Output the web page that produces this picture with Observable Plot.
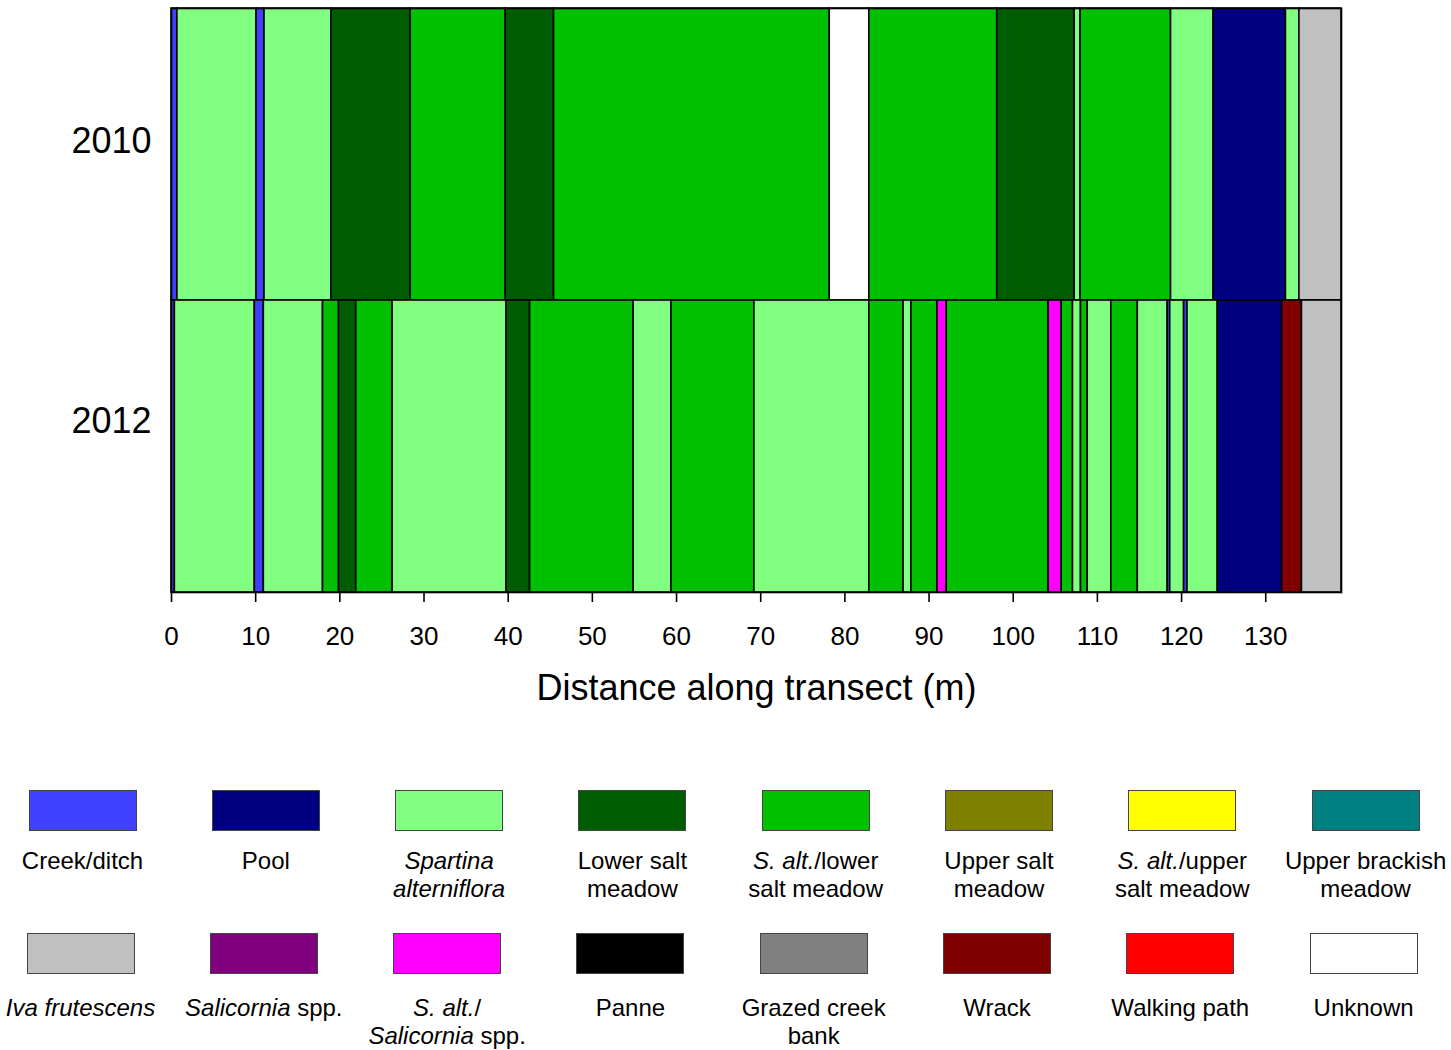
<!DOCTYPE html>
<html>
<head>
<meta charset="utf-8">
<script src="https://cdn.jsdelivr.net/npm/d3@7"></script>
<script src="https://cdn.jsdelivr.net/npm/@observablehq/plot@0.6"></script>
<style>
  body { margin: 0; background: #fff; font-family: "Liberation Sans", Arial, sans-serif; }
  #wrap { position: relative; width: 1451px; height: 1050px; }
  #chart { position: absolute; left: 0; top: 0; }
  .sw { position: absolute; width: 108px; height: 41px; box-sizing: border-box; border: 1px solid #444; }
  .lab { position: absolute; transform: translateX(-50%); font-size: 24px; line-height: 28px; text-align: center; white-space: nowrap; color: #000; }
</style>
</head>
<body>
<div id="wrap"><div id="chart"></div></div>
<script>
// Habitat categories (legend order) and colours
const categories = [
  "Creek/ditch", "Pool", "Spartina alterniflora", "Lower salt meadow",
  "S. alt./lower salt meadow", "Upper salt meadow", "S. alt./upper salt meadow", "Upper brackish meadow",
  "Iva frutescens", "Salicornia spp.", "S. alt./Salicornia spp.", "Panne",
  "Grazed creek bank", "Wrack", "Walking path", "Unknown"
];
const colors = [
  "#4040FF", "#000080", "#80FF80", "#005C00",
  "#00C000", "#808000", "#FFFF00", "#008080",
  "#C0C0C0", "#800080", "#FF00FF", "#000000",
  "#808080", "#800000", "#FF0000", "#FFFFFF"
];
// Legend labels (HTML, italics for taxa)
const legendLabels = [
  "Creek/ditch", "Pool", "<i>Spartina</i><br><i>alterniflora</i>", "Lower salt<br>meadow",
  "<i>S. alt.</i>/lower<br>salt meadow", "Upper salt<br>meadow", "<i>S. alt.</i>/upper<br>salt meadow", "Upper brackish<br>meadow",
  "<i>Iva frutescens</i>", "<i>Salicornia</i> spp.", "<i>S. alt.</i>/<br><i>Salicornia</i> spp.", "Panne",
  "Grazed creek<br>bank", "Wrack", "Walking path", "Unknown"
];

const years = ["2010", "2012"];

// Segment boundaries (m) and habitat of each segment
const breaks2010 = [0, 0.7, 10.1, 11.05, 19.0, 28.4, 39.7, 45.45, 78.2, 82.9, 98.1, 107.3, 108.0, 118.75, 123.8, 132.4, 134.0, 139];
const classes2010 = [
  "Creek/ditch", "Spartina alterniflora", "Creek/ditch", "Spartina alterniflora", "Lower salt meadow",
  "S. alt./lower salt meadow", "Lower salt meadow", "S. alt./lower salt meadow", "Unknown",
  "S. alt./lower salt meadow", "Lower salt meadow", "Spartina alterniflora", "S. alt./lower salt meadow",
  "Spartina alterniflora", "Pool", "Spartina alterniflora", "Iva frutescens"
];
const breaks2012 = [0, 0.4, 9.9, 10.97, 18.0, 19.9, 21.95, 26.27, 39.8, 42.6, 54.9, 59.4, 69.25, 82.9, 86.97, 87.9, 91.0, 92.1, 104.2, 105.75, 107.1, 108.05, 108.85, 111.65, 114.8, 118.35, 118.65, 120.3, 120.7, 124.3, 131.95, 134.3, 139];
const classes2012 = [
  "Creek/ditch", "Spartina alterniflora", "Creek/ditch", "Spartina alterniflora", "S. alt./lower salt meadow",
  "Lower salt meadow", "S. alt./lower salt meadow", "Spartina alterniflora", "Lower salt meadow",
  "S. alt./lower salt meadow", "Spartina alterniflora", "S. alt./lower salt meadow", "Spartina alterniflora",
  "S. alt./lower salt meadow", "Spartina alterniflora", "S. alt./lower salt meadow", "S. alt./Salicornia spp.",
  "S. alt./lower salt meadow", "S. alt./Salicornia spp.", "S. alt./lower salt meadow", "Spartina alterniflora",
  "S. alt./lower salt meadow", "Spartina alterniflora", "S. alt./lower salt meadow", "Spartina alterniflora",
  "Creek/ditch", "Spartina alterniflora", "Creek/ditch", "Spartina alterniflora", "Pool", "Wrack", "Iva frutescens"
];
const xTicks = [0, 10, 20, 30, 40, 50, 60, 70, 80, 90, 100, 110, 120, 130];
const xTitle = "Distance along transect (m)";

function segs(year, breaks, classes) {
  return classes.map((c, i) => ({year, x1: breaks[i], x2: breaks[i + 1], cat: c}));
}
const table = [...segs("2010", breaks2010, classes2010), ...segs("2012", breaks2012, classes2012)];

const chart = Plot.plot({
  width: 1451,
  height: 730,
  marginTop: 8,
  marginLeft: 171,
  marginRight: 110,
  marginBottom: 138,
  style: {fontFamily: "'Liberation Sans', Arial, sans-serif", color: "#000", background: "#fff"},
  x: {domain: [0, 139]},
  y: {domain: years, padding: 0},
  color: {domain: categories, range: colors},
  marks: [
    Plot.barX(table, {x1: "x1", x2: "x2", y: "year", fill: "cat", stroke: "#000", strokeWidth: 1.6, inset: 0}),
    Plot.frame({stroke: "#000", strokeWidth: 1.6}),
    Plot.axisX({ticks: xTicks, tickSize: 10, tickPadding: 24, fontSize: 26, label: null, tickFormat: d => String(d), strokeWidth: 1.6}),
    Plot.axisY({ticks: [years[0]], tickSize: 0, tickPadding: 20, fontSize: 36, label: null, dy: -13}),
    Plot.axisY({ticks: [years[1]], tickSize: 0, tickPadding: 20, fontSize: 36, label: null, dy: -25}),
    Plot.text([xTitle], {frameAnchor: "bottom", dy: 96, fontSize: 36, lineAnchor: "middle", text: d => d})
  ]
});
document.getElementById("chart").appendChild(chart);

// HTML legend below the SVG
const wrap = document.getElementById("wrap");
categories.forEach((c, i) => {
  const row = Math.floor(i / 8), col = i % 8;
  const cx = (row === 0 ? 82.5 : 80.5) + col * 183.3;
  const top = row === 0 ? 790 : 933;
  const sw = document.createElement("div");
  sw.className = "sw";
  sw.style.left = (cx - 54) + "px";
  sw.style.top = top + "px";
  sw.style.background = colors[i];
  wrap.appendChild(sw);
  const lab = document.createElement("div");
  lab.className = "lab";
  lab.style.left = cx + "px";
  lab.style.top = (row === 0 ? 847 : 994) + "px";
  lab.innerHTML = legendLabels[i];
  wrap.appendChild(lab);
});
</script>
</body>
</html>
